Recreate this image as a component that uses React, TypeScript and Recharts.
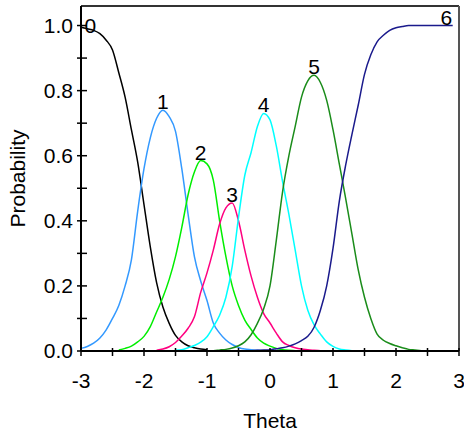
import { Label, LabelList, Line, LineChart, ReferenceLine, XAxis, YAxis } from "recharts";

const _ = null;

const theta = [
  -3, -2.9, -2.8, -2.7, -2.6, -2.5, -2.4, -2.3, -2.2, -2.1,
  -2, -1.9, -1.8, -1.7, -1.6, -1.5, -1.4, -1.3, -1.2, -1.1,
  -1, -0.9, -0.8, -0.7, -0.6, -0.5, -0.4, -0.3, -0.2, -0.1,
  0, 0.1, 0.2, 0.3, 0.4, 0.5, 0.6, 0.7, 0.8, 0.9,
  1, 1.1, 1.2, 1.3, 1.4, 1.5, 1.6, 1.7, 1.8, 1.9,
  2, 2.1, 2.2, 2.3, 2.4, 2.5, 2.6, 2.7, 2.8, 2.9,
];

// category response curves, null where the curve is not drawn
const cat0 = [
  0.995, 0.99, 0.985, 0.975, 0.955, 0.925, 0.855, 0.78, 0.68, 0.58,
  0.45, 0.32, 0.21, 0.135, 0.085, 0.048, 0.028, 0.016, 0.01, 0.006,
  0.004, _, _, _, _, _, _, _, _, _,
  _, _, _, _, _, _, _, _, _, _,
  _, _, _, _, _, _, _, _, _, _,
  _, _, _, _, _, _, _, _, _, _,
];
const cat1 = [
  0.008, 0.014, 0.024, 0.04, 0.065, 0.1, 0.14, 0.2, 0.28, 0.43,
  0.56, 0.655, 0.715, 0.74, 0.72, 0.675, 0.56, 0.42, 0.29, 0.215,
  0.155, 0.086, 0.055, 0.034, 0.02, 0.011, 0.006, 0.004, 0.002, 0.001,
  0, 0, 0, 0, _, _, _, _, _, _,
  _, _, _, _, _, _, _, _, _, _,
  _, _, _, _, _, _, _, _, _, _,
];
const cat2 = [
  _, _, _, _, _, _, 0.003, 0.008, 0.015, 0.028,
  0.045, 0.075, 0.12, 0.165, 0.22, 0.29, 0.38, 0.48, 0.55, 0.585,
  0.575, 0.525, 0.4, 0.29, 0.2, 0.14, 0.095, 0.066, 0.04, 0.024,
  0.015, 0.008, 0.004, 0.002, 0.001, 0, _, _, _, _,
  _, _, _, _, _, _, _, _, _, _,
  _, _, _, _, _, _, _, _, _, _,
];
const cat3 = [
  _, _, _, _, _, _, _, _, _, _,
  _, _, 0.002, 0.006, 0.013, 0.026, 0.046, 0.07, 0.105, 0.18,
  0.24, 0.31, 0.39, 0.44, 0.455, 0.4, 0.31, 0.23, 0.165, 0.115,
  0.086, 0.055, 0.028, 0.017, 0.01, 0.006, 0.004, 0.002, 0.001, 0,
  0, 0, 0, _, _, _, _, _, _, _,
  _, _, _, _, _, _, _, _, _, _,
];
const cat4 = [
  _, _, _, _, _, _, _, _, _, _,
  _, _, _, _, _, 0.002, 0.004, 0.01, 0.017, 0.027,
  0.044, 0.075, 0.11, 0.165, 0.26, 0.41, 0.54, 0.61, 0.69, 0.73,
  0.71, 0.63, 0.52, 0.42, 0.31, 0.2, 0.125, 0.08, 0.052, 0.028,
  0.014, 0.006, 0.003, 0.001, 0, 0, 0, 0, 0, 0,
  0, 0, 0, _, _, _, _, _, _, _,
];
const cat5 = [
  _, _, _, _, _, _, _, _, _, _,
  _, _, _, _, _, _, _, _, _, _,
  _, 0.001, 0.003, 0.005, 0.009, 0.016, 0.028, 0.05, 0.085, 0.13,
  0.2, 0.34, 0.49, 0.6, 0.69, 0.78, 0.83, 0.847, 0.825, 0.77,
  0.68, 0.575, 0.47, 0.36, 0.25, 0.165, 0.1, 0.052, 0.033, 0.023,
  0.016, 0.01, 0.005, 0.003, 0.001, 0, 0, 0, 0, 0,
];
const cat6 = [
  0, 0, 0, 0, 0, 0, 0, 0, 0, 0,
  0, 0, 0, 0, 0, 0, 0, 0, 0, 0,
  0, 0, 0, 0, 0, 0, 0, 0.001, 0.002, 0.003,
  0.004, 0.007, 0.01, 0.015, 0.022, 0.032, 0.045, 0.073, 0.125, 0.2,
  0.315, 0.46, 0.57, 0.665, 0.755, 0.85, 0.91, 0.95, 0.97, 0.985,
  0.993, 0.997, 1, 1, 1, 1, 1, 1, 1, 1,
];

const categories = ["0", "1", "2", "3", "4", "5", "6"];
const series = [cat0, cat1, cat2, cat3, cat4, cat5, cat6];
// theta at which each curve's number is written
const labelTheta = [-2.9, -1.7, -1.1, -0.6, -0.1, 0.7, 2.8];

const xTicks = [-3, -2.5, -2, -1.5, -1, -0.5, 0, 0.5, 1, 1.5, 2, 2.5, 3];
const yTicks = [0, 0.1, 0.2, 0.3, 0.4, 0.5, 0.6, 0.7, 0.8, 0.9, 1];

const COLORS = ["#000000", "#3399ff", "#00ee00", "#ff0080", "#00ffff", "#1a8c1a", "#1a1a8c"];
const FONT = "'Liberation Sans', Arial, sans-serif";
const FONT_SIZE = 21;
const PLOT_LEFT = 81;
const PLOT_BOTTOM = 351;
const Y_MAX = 1.06;

const data = theta.map((t, i) => {
  const row: Record<string, number | null> = { theta: t };
  series.forEach((s, k) => {
    row[`c${k}`] = s[i];
  });
  return row;
});

function XTick(props: any) {
  const { x, y, payload } = props;
  const v = payload.value as number;
  return (
    <g>
      <line x1={x} x2={x} y1={PLOT_BOTTOM - 3} y2={PLOT_BOTTOM + 5} stroke="#000" strokeWidth={1.5} />
      {Number.isInteger(v) ? (
        <text x={x} y={y} dy="0.71em" textAnchor="middle" fontSize={FONT_SIZE} fontFamily={FONT} fill="#000">
          {v}
        </text>
      ) : null}
    </g>
  );
}

function YTick(props: any) {
  const { x, y, payload } = props;
  const v = payload.value as number;
  const showLabel = Math.round(v * 10) % 2 === 0;
  return (
    <g>
      <line x1={PLOT_LEFT - 4} x2={PLOT_LEFT + 6} y1={y} y2={y} stroke="#000" strokeWidth={1.5} />
      {showLabel ? (
        <text x={x} y={y} dy="0.355em" textAnchor="end" fontSize={FONT_SIZE} fontFamily={FONT} fill="#000">
          {v.toFixed(1)}
        </text>
      ) : null}
    </g>
  );
}

const makeCurveLabel = (k: number) => (props: any) => {
  const { x, y, index } = props;
  if (theta[index] !== labelTheta[k] || y == null) return null;
  // the "0" sits a little right of and on the curve start
  const dx = k === 0 ? 3 : 0;
  const dy = k === 0 ? 4 : -1;
  return (
    <text key={`lbl-${k}`} x={x + dx} y={y + dy} textAnchor="middle" fontSize={FONT_SIZE} fontFamily={FONT} fill="#000">
      {categories[k]}
    </text>
  );
};

export default function App() {
  return (
    <div style={{ position: "absolute", left: 0, top: 0, width: 464, height: 434, background: "#fff" }}>
      <LineChart width={464} height={434} data={data} margin={{ top: 6, right: 5, bottom: 6, left: 0 }}>
        <XAxis
          dataKey="theta"
          type="number"
          domain={[-3, 3]}
          ticks={xTicks}
          interval={0}
          tickSize={0}
          tickMargin={22}
          tickLine={false}
          tick={XTick}
          axisLine={{ stroke: "#000", strokeWidth: 2 }}
          height={77}
        >
          <Label
            value="Theta"
            position="insideBottom"
            offset={0}
            style={{ fontSize: FONT_SIZE, fontFamily: FONT, fill: "#000" }}
          />
        </XAxis>
        <YAxis
          type="number"
          domain={[0, Y_MAX]}
          ticks={yTicks}
          interval={0}
          tickSize={0}
          tickMargin={8}
          tickLine={false}
          tick={YTick}
          axisLine={{ stroke: "#000", strokeWidth: 2 }}
          width={81}
          allowDataOverflow
        >
          <Label
            value="Probability"
            angle={-90}
            position="insideLeft"
            offset={18}
            style={{ textAnchor: "middle", fontSize: FONT_SIZE, fontFamily: FONT, fill: "#000" }}
          />
        </YAxis>
        <ReferenceLine y={Y_MAX} stroke="#333" strokeWidth={2} />
        <ReferenceLine x={3} stroke="#555" strokeWidth={2} />
        {categories.map((c, k) => (
          <Line
            key={c}
            dataKey={`c${k}`}
            type="monotone"
            stroke={COLORS[k]}
            strokeWidth={1.5}
            dot={false}
            isAnimationActive={false}
          >
            <LabelList dataKey={`c${k}`} content={makeCurveLabel(k)} />
          </Line>
        ))}
      </LineChart>
    </div>
  );
}
